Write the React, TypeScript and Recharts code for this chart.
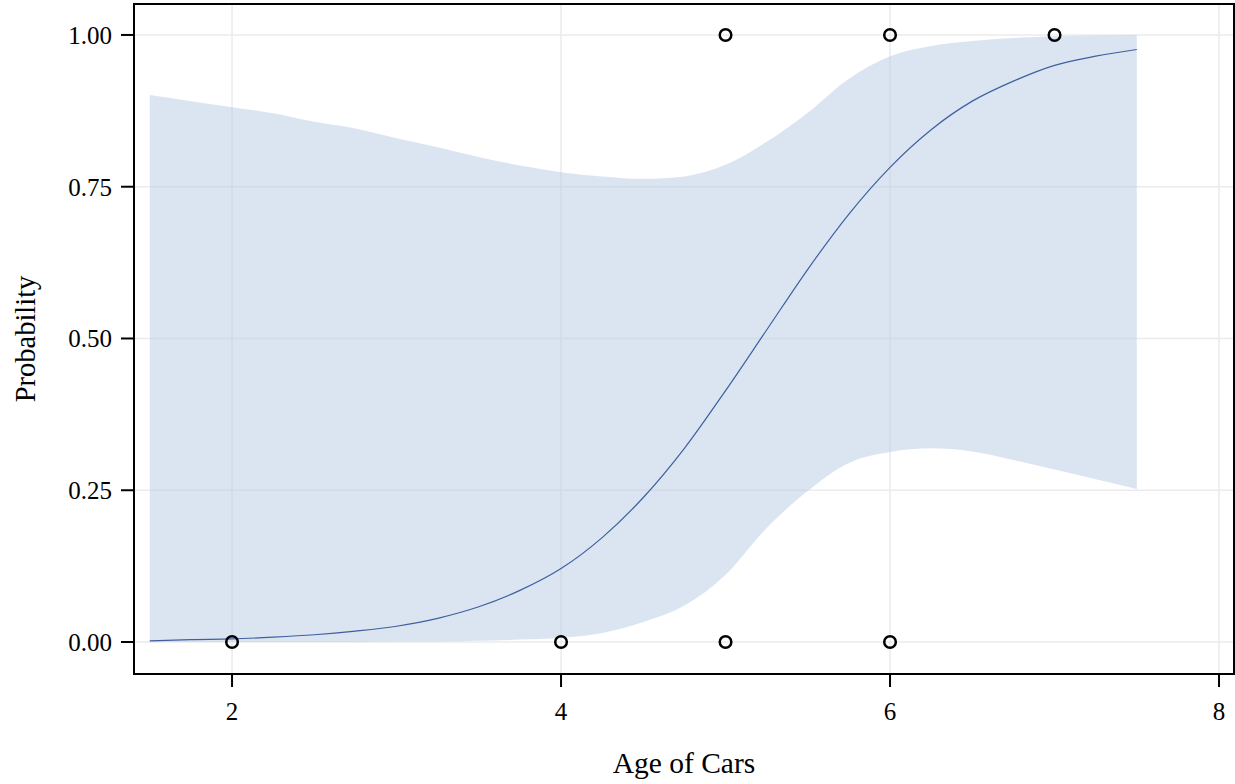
import React from 'react'
import {
  ComposedChart, Area, Line, Scatter, XAxis, YAxis, CartesianGrid, ReferenceArea,
} from 'recharts'

// fitted probability with its confidence band, sampled along car age
const ages = [1.5, 1.75, 2, 2.25, 2.5, 2.75, 3, 3.25, 3.5, 3.75, 4, 4.25, 4.5, 4.75, 5, 5.25, 5.5, 5.75, 6, 6.25, 6.5, 6.75, 7, 7.25, 7.5]
const predicted = [0.002, 0.004, 0.005, 0.008, 0.012, 0.018, 0.026, 0.039, 0.058, 0.085, 0.121, 0.172, 0.238, 0.319, 0.414, 0.514, 0.614, 0.705, 0.782, 0.844, 0.891, 0.924, 0.95, 0.965, 0.976]
const lowerCL = [0, 0, 0, 0, 0, 0, 0.001, 0.001, 0.002, 0.004, 0.007, 0.015, 0.033, 0.06, 0.111, 0.188, 0.249, 0.295, 0.313, 0.319, 0.314, 0.3, 0.284, 0.268, 0.252]
const upperCL = [0.901, 0.891, 0.881, 0.871, 0.857, 0.846, 0.83, 0.815, 0.799, 0.785, 0.774, 0.767, 0.763, 0.767, 0.786, 0.824, 0.872, 0.928, 0.965, 0.982, 0.99, 0.995, 0.998, 0.999, 1]

// observed cars
const obsAge = [2, 4, 5, 5, 6, 6, 7]
const obsOutcome = [0, 0, 0, 1, 0, 1, 1]

const xTicks = [2, 4, 6, 8]
const yTicks = [0, 0.25, 0.5, 0.75, 1]
const X_DOMAIN: [number, number] = [1.404, 8.091]
const Y_DOMAIN: [number, number] = [-0.0527, 1.051]

const bandData = ages.map((x, i) => ({ x, band: [lowerCL[i], upperCL[i]] }))
const lineData = ages.map((x, i) => ({ x, p: predicted[i] }))
const pointData = obsAge.map((x, i) => ({ x, y: obsOutcome[i] }))

const FONT = '"Liberation Serif", "Times New Roman", serif'
const tickStyle = { fill: '#000', fontSize: 25, fontFamily: FONT }

const OpenCircle = (props: any) => (
  <circle cx={props.cx} cy={props.cy} r={5.8} fill="none" stroke="#000" strokeWidth={2.5} />
)

export default function App() {
  return (
    <div style={{ position: 'absolute', left: 0, top: 0, background: '#fff' }}>
      <ComposedChart width={1235} height={784} margin={{ top: 4, right: 1, bottom: 0, left: 0 }}>
        <CartesianGrid stroke="#ebebeb" strokeWidth={1.5} />
        <XAxis
          type="number"
          dataKey="x"
          domain={X_DOMAIN}
          ticks={xTicks}
          allowDataOverflow
          height={110}
          tick={tickStyle}
          tickSize={13}
          tickMargin={15}
          axisLine={{ stroke: '#000', strokeWidth: 2 }}
          tickLine={{ stroke: '#000', strokeWidth: 2 }}
          label={{ value: 'Age of Cars', position: 'center', dy: 34, fill: '#000', fontSize: 29.5, fontFamily: FONT }}
        />
        <YAxis
          type="number"
          domain={Y_DOMAIN}
          ticks={yTicks}
          allowDataOverflow
          width={134}
          tick={tickStyle}
          tickSize={13}
          tickMargin={9}
          tickFormatter={(v: number) => v.toFixed(2)}
          axisLine={{ stroke: '#000', strokeWidth: 2 }}
          tickLine={{ stroke: '#000', strokeWidth: 2 }}
          label={{ value: 'Probability', angle: -90, position: 'center', dx: -42, fill: '#000', fontSize: 28.5, fontFamily: FONT }}
        />
        <Area
          data={bandData}
          dataKey="band"
          type="monotone"
          stroke="none"
          fill="#b8cce6"
          fillOpacity={0.5}
          isAnimationActive={false}
        />
        <Line
          data={lineData}
          dataKey="p"
          type="monotone"
          stroke="#3f5f9f"
          strokeWidth={1.2}
          dot={false}
          isAnimationActive={false}
        />
        <Scatter data={pointData} dataKey="y" shape={OpenCircle} isAnimationActive={false} />
        <ReferenceArea
          x1={X_DOMAIN[0]}
          x2={X_DOMAIN[1]}
          y1={Y_DOMAIN[0]}
          y2={Y_DOMAIN[1]}
          fill="none"
          stroke="#000"
          strokeWidth={2}
        />
      </ComposedChart>
    </div>
  )
}
